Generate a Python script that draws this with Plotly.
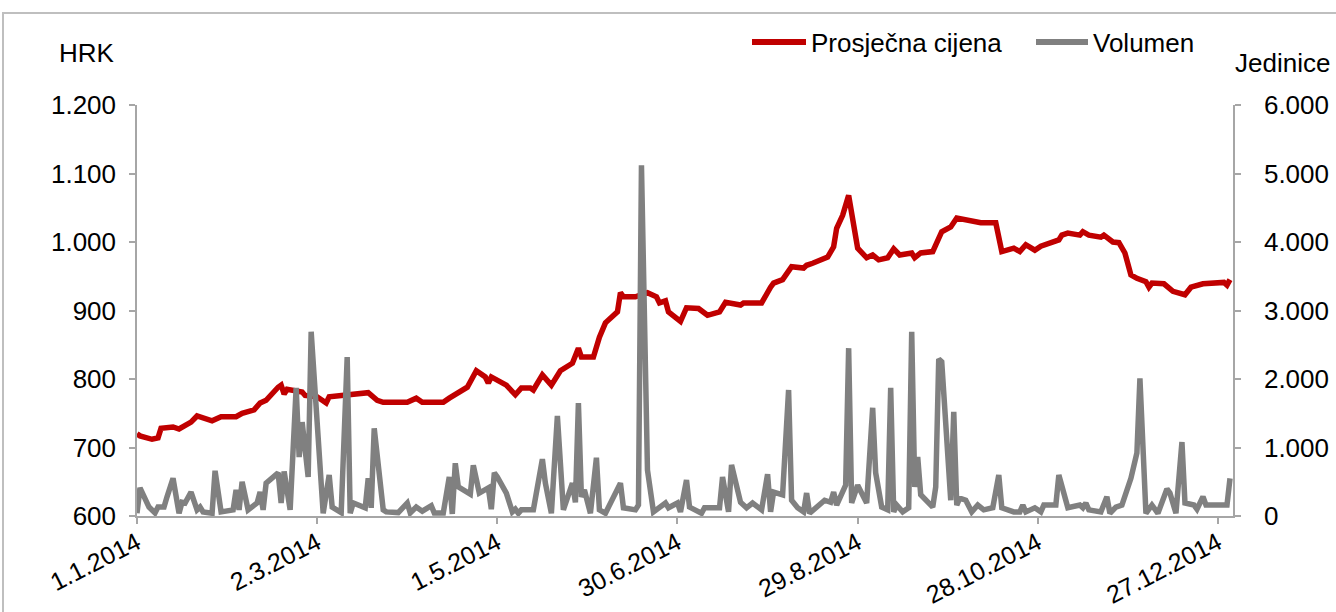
import plotly.graph_objects as go

# ---------------- data ----------------
price_dates = ["2014-01-01","2014-01-02","2014-01-06","2014-01-08","2014-01-09","2014-01-13","2014-01-15","2014-01-17","2014-01-19","2014-01-21","2014-01-23","2014-01-26","2014-01-29",
"2014-02-03","2014-02-05","2014-02-09","2014-02-11","2014-02-13","2014-02-17","2014-02-18","2014-02-19","2014-02-20","2014-02-25","2014-02-26",
"2014-03-02","2014-03-05","2014-03-06","2014-03-11","2014-03-19","2014-03-22","2014-03-24",
"2014-04-01","2014-04-04","2014-04-06","2014-04-13","2014-04-15","2014-04-18","2014-04-21","2014-04-24","2014-04-27","2014-04-28","2014-04-29",
"2014-05-04","2014-05-07","2014-05-09","2014-05-12","2014-05-13","2014-05-16","2014-05-19","2014-05-22","2014-05-26","2014-05-28","2014-05-29",
"2014-06-02","2014-06-04","2014-06-06","2014-06-10","2014-06-11","2014-06-12","2014-06-16","2014-06-20","2014-06-23","2014-06-24","2014-06-26","2014-06-27",
"2014-07-01","2014-07-03","2014-07-07","2014-07-10","2014-07-14","2014-07-16","2014-07-21","2014-07-22","2014-07-28","2014-07-31",
"2014-08-01","2014-08-04","2014-08-07","2014-08-11","2014-08-12","2014-08-14","2014-08-19","2014-08-21","2014-08-22","2014-08-24","2014-08-26","2014-08-29",
"2014-09-01","2014-09-03","2014-09-05","2014-09-08","2014-09-10","2014-09-12","2014-09-16","2014-09-17","2014-09-19","2014-09-23","2014-09-26","2014-09-29",
"2014-10-01","2014-10-09","2014-10-14","2014-10-16","2014-10-20","2014-10-22","2014-10-24","2014-10-27","2014-10-29",
"2014-11-04","2014-11-05","2014-11-07","2014-11-11","2014-11-12","2014-11-14","2014-11-18","2014-11-19","2014-11-22","2014-11-24","2014-11-26","2014-11-28","2014-11-30",
"2014-12-03","2014-12-04","2014-12-05","2014-12-09","2014-12-12","2014-12-16","2014-12-18","2014-12-22","2014-12-29","2014-12-30","2014-12-31"]
price_values = [720,717,712,714,728,730,727,733,737,746,744,739,745,
745,750,755,765,769,788,791,778,785,781,776,
774,765,774,777,780,769,766,
766,772,766,766,772,781,788,812,803,794,803,
791,777,787,787,784,806,791,812,823,845,832,
832,861,882,898,926,920,920,926,920,911,914,898,
884,904,903,893,898,912,908,911,911,934,
940,945,964,962,966,969,978,993,1020,1039,1068,991,
977,981,974,977,990,981,984,977,984,986,1015,1022,
1035,1028,1028,986,991,986,996,988,994,
1003,1010,1013,1010,1015,1010,1007,1010,1000,999,984,952,947,
942,934,940,939,928,923,934,939,941,937,945]

volume_dates = ["2014-01-01","2014-01-02","2014-01-05","2014-01-07","2014-01-08","2014-01-10","2014-01-11","2014-01-13","2014-01-15","2014-01-16","2014-01-17","2014-01-19","2014-01-21","2014-01-22","2014-01-23","2014-01-26","2014-01-27","2014-01-29",
"2014-02-02","2014-02-03","2014-02-04","2014-02-05","2014-02-07","2014-02-10","2014-02-11","2014-02-12","2014-02-13","2014-02-17","2014-02-18","2014-02-19","2014-02-21","2014-02-23","2014-02-24","2014-02-25","2014-02-27","2014-02-28",
"2014-03-04","2014-03-06","2014-03-07","2014-03-09","2014-03-10","2014-03-12","2014-03-13","2014-03-14","2014-03-18","2014-03-19","2014-03-20","2014-03-21","2014-03-24","2014-03-25","2014-03-29",
"2014-04-01","2014-04-02","2014-04-04","2014-04-06","2014-04-09","2014-04-10","2014-04-13","2014-04-15","2014-04-16","2014-04-17","2014-04-18","2014-04-22","2014-04-23","2014-04-25","2014-04-28","2014-04-29","2014-04-30",
"2014-05-01","2014-05-04","2014-05-06","2014-05-07","2014-05-08","2014-05-09","2014-05-13","2014-05-16","2014-05-17","2014-05-19","2014-05-21","2014-05-23","2014-05-26","2014-05-27","2014-05-28","2014-05-29","2014-05-30",
"2014-06-01","2014-06-03","2014-06-04","2014-06-06","2014-06-11","2014-06-12","2014-06-16","2014-06-17","2014-06-18","2014-06-20","2014-06-22","2014-06-26","2014-06-27","2014-06-30",
"2014-07-01","2014-07-03","2014-07-04","2014-07-08","2014-07-09","2014-07-14","2014-07-15","2014-07-17","2014-07-18","2014-07-21","2014-07-23","2014-07-25","2014-07-28","2014-07-30","2014-07-31",
"2014-08-01","2014-08-04","2014-08-06","2014-08-07","2014-08-09","2014-08-11","2014-08-12","2014-08-13","2014-08-18","2014-08-20","2014-08-21","2014-08-22","2014-08-25","2014-08-26","2014-08-27","2014-08-29",
"2014-09-01","2014-09-03","2014-09-04","2014-09-06","2014-09-08","2014-09-09","2014-09-10","2014-09-11","2014-09-13","2014-09-15","2014-09-16","2014-09-17","2014-09-18","2014-09-19","2014-09-23","2014-09-24","2014-09-25","2014-09-26","2014-09-29","2014-09-30",
"2014-10-01","2014-10-02","2014-10-04","2014-10-06","2014-10-08","2014-10-10","2014-10-13","2014-10-15","2014-10-16","2014-10-20","2014-10-22","2014-10-23","2014-10-24","2014-10-27","2014-10-29","2014-10-30",
"2014-11-03","2014-11-04","2014-11-06","2014-11-07","2014-11-11","2014-11-12","2014-11-13","2014-11-14","2014-11-18","2014-11-20","2014-11-21","2014-11-23","2014-11-25","2014-11-28","2014-11-30",
"2014-12-01","2014-12-03","2014-12-05","2014-12-07","2014-12-10","2014-12-11","2014-12-13","2014-12-15","2014-12-16","2014-12-19","2014-12-20","2014-12-22","2014-12-23","2014-12-30","2014-12-31"]
volume_values = [40,410,130,45,130,130,280,550,40,200,190,350,90,130,60,40,660,60,
90,380,90,500,90,190,350,90,480,630,190,650,90,1870,860,1370,570,2690,
40,600,130,60,50,2320,40,190,120,550,120,1280,90,60,50,
190,45,130,70,150,45,45,570,30,770,425,320,740,335,410,100,630,
570,335,60,100,40,90,90,830,480,40,1460,90,480,200,1650,280,380,
40,850,90,40,480,120,90,160,5120,670,60,190,120,190,
60,525,130,40,120,120,570,60,745,200,120,190,90,610,60,
350,310,1840,230,120,60,335,40,230,200,350,160,450,2450,190,450,
190,1580,630,130,90,1870,60,160,60,120,2690,425,860,310,130,425,2290,2250,230,1520,
160,260,230,60,160,90,120,600,120,60,60,160,60,120,60,160,
160,600,260,120,160,120,190,90,60,280,40,130,160,550,920,
2010,40,160,40,395,335,40,1080,190,160,100,280,160,160,550]

x_tick_dates = ["2014-01-01","2014-03-02","2014-05-01","2014-06-30","2014-08-29","2014-10-28","2014-12-27"]
x_tick_labels = ["1.1.2014","2.3.2014","1.5.2014","30.6.2014","29.8.2014","28.10.2014","27.12.2014"]

price_name = "Prosječna cijena"
volume_name = "Volumen"
left_title = "HRK"
right_title = "Jedinice"

# ---------------- style ----------------
RED = "#C00000"
GRAY = "#808080"
AXIS = "#a6a6a6"
FONT = "Liberation Sans, Arial, sans-serif"
FS = 26
TXT = dict(family=FONT, size=FS, color="#000000")
XTXT = dict(family=FONT, size=25, color="#000000")

fig = go.Figure()
fig.add_trace(go.Scatter(x=price_dates, y=price_values, name=price_name, mode="lines",
                         line=dict(color=RED, width=5.5), yaxis="y", showlegend=False))
fig.add_trace(go.Scatter(x=volume_dates, y=volume_values, name=volume_name, mode="lines",
                         line=dict(color=GRAY, width=5.5), yaxis="y2", showlegend=False))

L, R, T, B = 137, 103, 105, 96
W, H = 1336, 612
pw, ph = W - L - R, H - T - B
def px(x):
    return (x - L) / pw
def py(y):
    return (H - B - y) / ph

axis_common = dict(showgrid=False, zeroline=False, showline=True, linecolor=AXIS, linewidth=1.5,
                   ticks="outside", ticklen=6, tickcolor=AXIS, tickwidth=1.5, automargin=False)

fig.update_layout(
    width=W, height=H,
    margin=dict(l=L, r=R, t=T, b=B, pad=0, autoexpand=False),
    paper_bgcolor="white", plot_bgcolor="white",
    separators=",.",
    font=TXT,
    xaxis=dict(type="date", range=["2014-01-01", "2015-01-01"],
               tickvals=x_tick_dates, ticktext=x_tick_labels, tickangle=-27,
               tickfont=XTXT, ticklabelstandoff=-5, **axis_common),
    yaxis=dict(range=[600, 1200], dtick=100, tickformat=",d", tickfont=TXT,
               ticklabelstandoff=8, **axis_common),
    yaxis2=dict(range=[0, 6000], dtick=1000, tickformat=",d", overlaying="y", side="right",
                tickfont=TXT, ticklabelstandoff=18, **axis_common),
)

shapes = [
    dict(type="rect", xref="paper", yref="paper", x0=px(3), x1=px(1345), y0=py(640), y1=py(13),
         line=dict(color="#bfbfbf", width=2), fillcolor="rgba(0,0,0,0)", layer="below"),
    dict(type="line", xref="paper", yref="paper", x0=px(752), x1=px(806), y0=py(42), y1=py(42),
         line=dict(color=RED, width=6)),
    dict(type="line", xref="paper", yref="paper", x0=px(1036), x1=px(1088), y0=py(42), y1=py(42),
         line=dict(color=GRAY, width=6)),
]
annotations = [
    dict(text=price_name, xref="paper", yref="paper", x=px(809), y=py(43), xanchor="left", yanchor="middle",
         showarrow=False, font=TXT),
    dict(text=volume_name, xref="paper", yref="paper", x=px(1091), y=py(43), xanchor="left", yanchor="middle",
         showarrow=False, font=TXT),
    dict(text=left_title, xref="paper", yref="paper", x=px(87), y=py(53), xanchor="center", yanchor="middle",
         showarrow=False, font=TXT),
    dict(text=right_title, xref="paper", yref="paper", x=px(1282), y=py(63), xanchor="center", yanchor="middle",
         showarrow=False, font=TXT),
]
fig.update_layout(shapes=shapes, annotations=annotations)

fig.write_html("out.html", config={"displayModeBar": False},
               post_script="document.body.style.margin='0px';document.body.style.overflow='hidden';")
